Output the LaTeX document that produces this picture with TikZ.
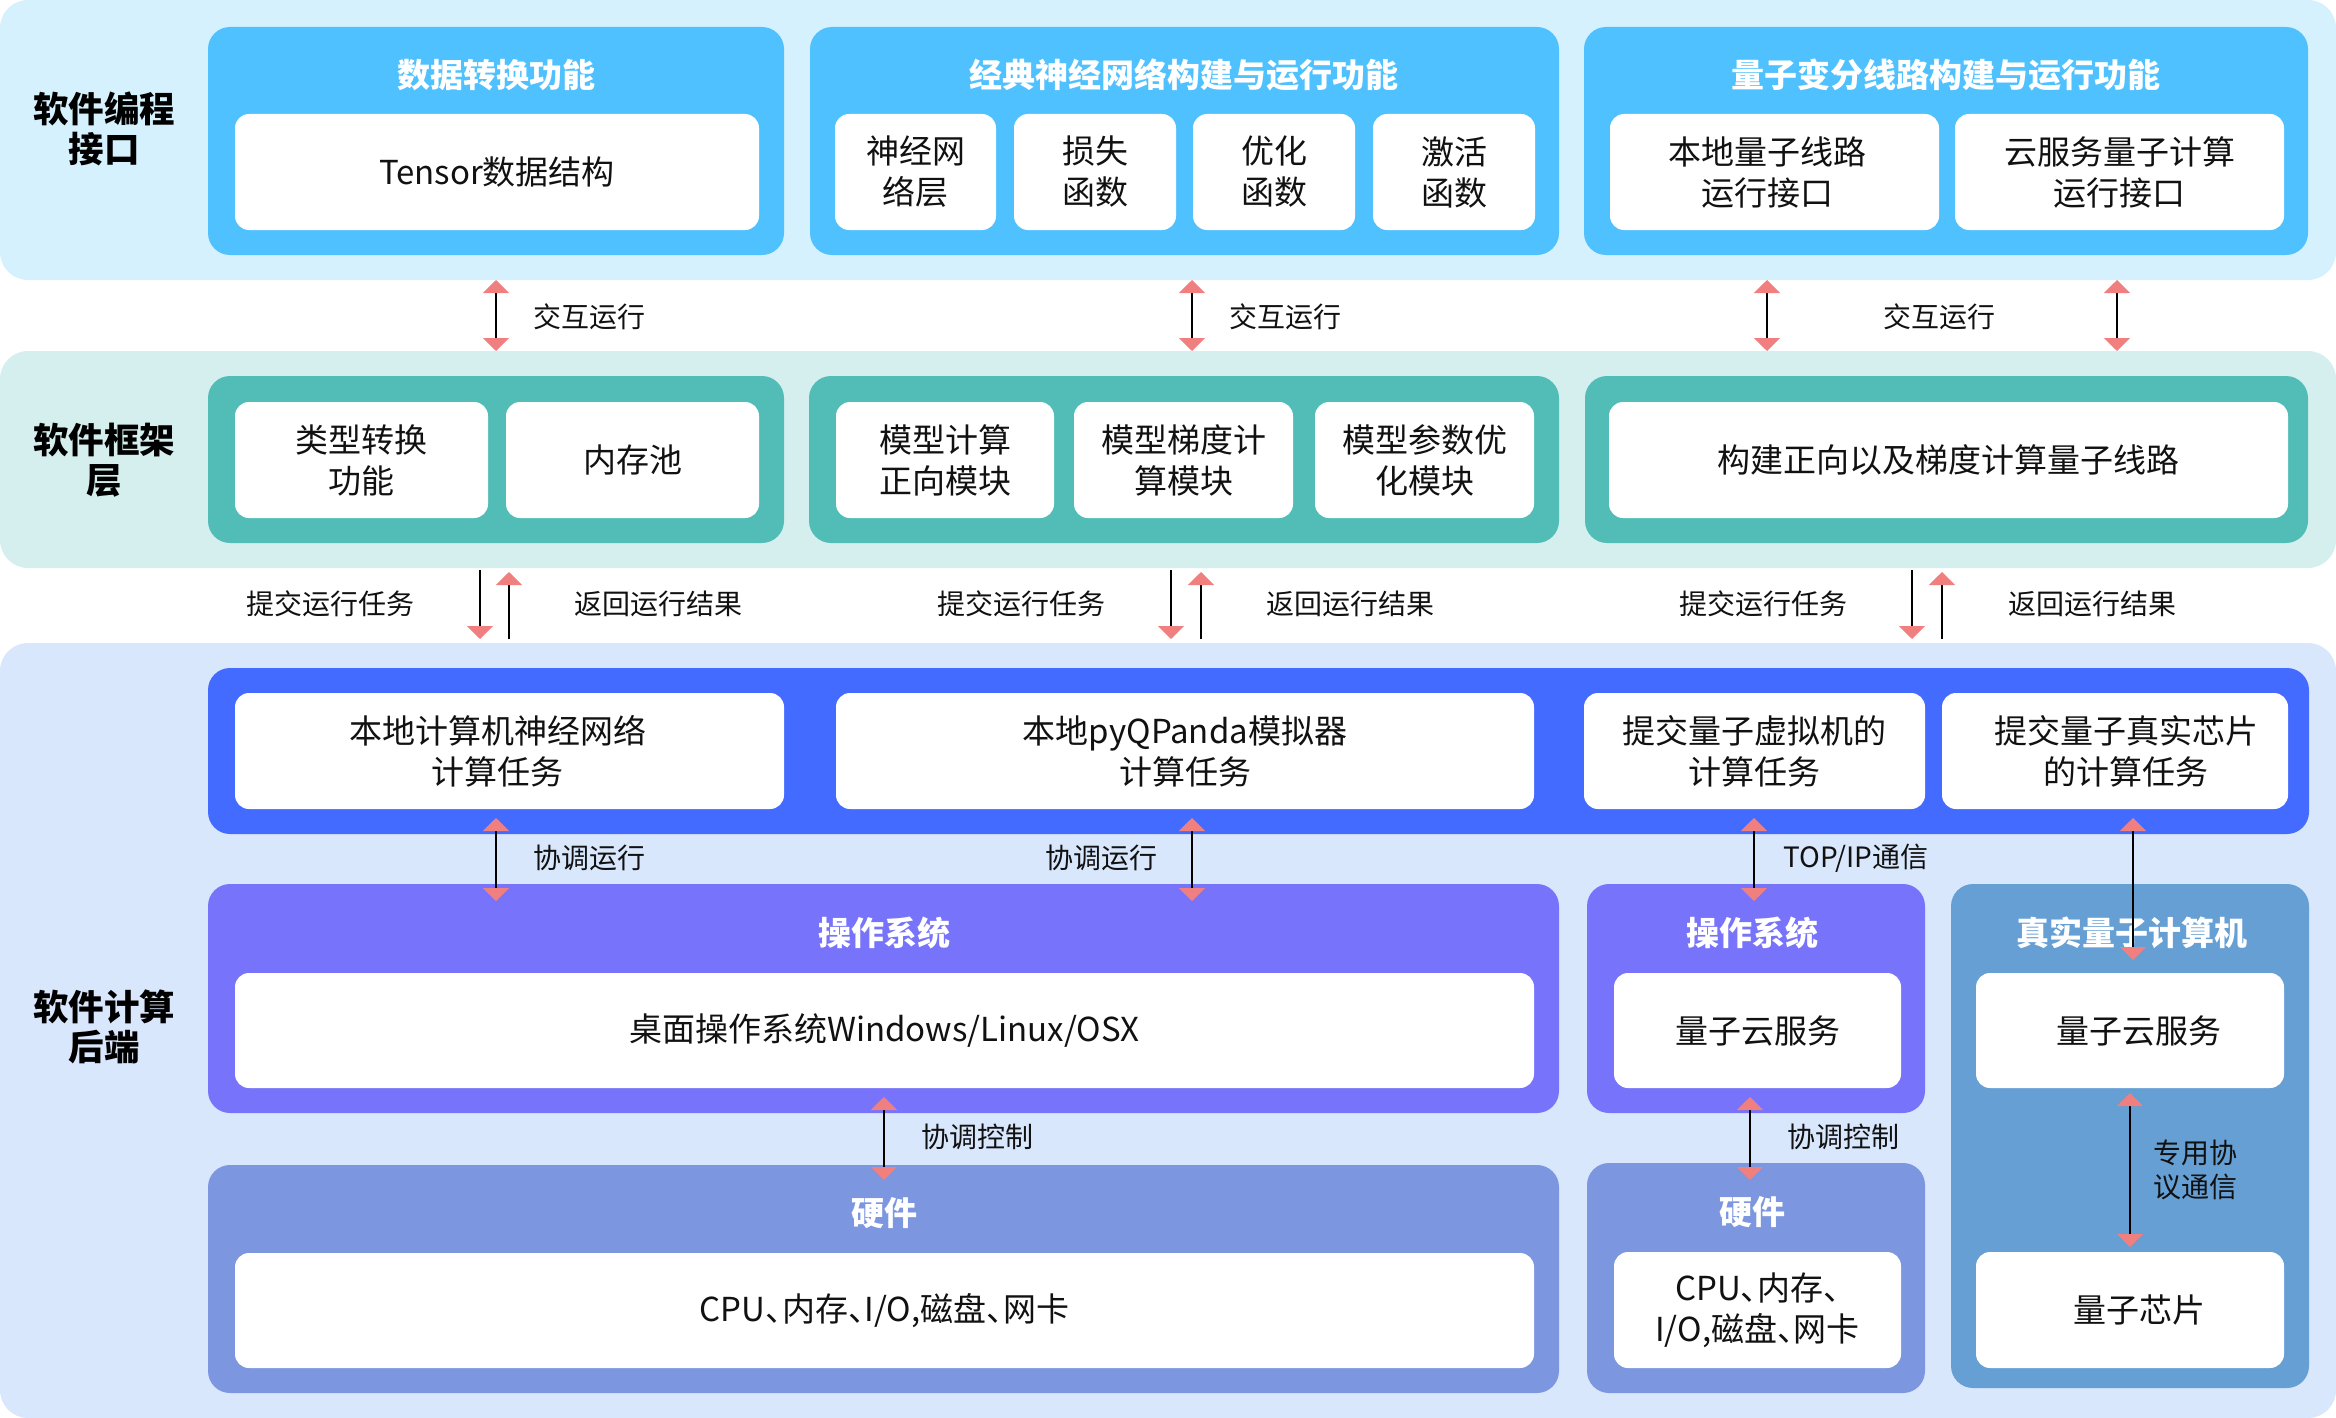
\documentclass[tikz,border=0pt]{standalone}
\usepackage{fontspec}
\setmainfont{Noto Sans CJK SC}
\usetikzlibrary{arrows.meta}
\definecolor{bandA}{HTML}{D5F1FD}
\definecolor{bandB}{HTML}{D5EFEE}
\definecolor{bandC}{HTML}{D9E7FD}
\definecolor{cblue}{HTML}{4FC1FE}
\definecolor{cteal}{HTML}{52BDB7}
\definecolor{croyal}{HTML}{436BFF}
\definecolor{cpurple}{HTML}{7773FA}
\definecolor{chw}{HTML}{7C96DF}
\definecolor{csteel}{HTML}{659FD4}
\definecolor{apink}{HTML}{F08080}
\definecolor{txt}{HTML}{111111}
\newcommand\rbox[7]{\node[#2, anchor=north west, minimum width={#5-#3}, minimum height={#6-#4}, inner sep=0pt, outer sep=0pt] (#1) at (#3,#4) {#7};}
\newcommand\dunhao{\makebox[0.5em][l]{、}}
\tikzset{
  bandbox/.style={rounded corners=28pt},
  contbox/.style={rounded corners=22pt},
  whitebox/.style={rounded corners=14pt, fill=white, align=center, text=txt, font=\fontsize{33}{41}\selectfont},
  titletext/.style={text=white, font=\fontsize{33}{40}\selectfont\bfseries, inner sep=0pt},
  sidetext/.style={text=black, font=\fontsize{35.5}{40}\selectfont\bfseries, align=center, inner sep=0pt},
  lbl/.style={text=txt, font=\fontsize{28}{34}\selectfont, inner sep=0pt, align=left},
  both/.style={line width=2pt, black, {Triangle[width=26pt,length=13pt,color=apink]}-{Triangle[width=26pt,length=13pt,color=apink]}},
  down/.style={line width=2pt, black, -{Triangle[width=26pt,length=13pt,color=apink]}},
}
\begin{document}
\begin{tikzpicture}[x=1pt,y=-1pt]
\useasboundingbox (0,0) rectangle (2336,1418);
% bands
\rbox{bandA}{bandbox, fill=bandA}{0}{0}{2336}{280}{}
\rbox{bandB}{bandbox, fill=bandB}{0}{351}{2336}{568}{}
\rbox{bandC}{bandbox, fill=bandC}{0}{643}{2336}{1418}{}
% side labels
\node[sidetext] (sA) at (104,129) {软件编程\\接口};
\node[sidetext] (sB) at (104,460) {软件框架\\层};
\node[sidetext] (sC) at (104,1027) {软件计算\\后端};
% --- layer 1
\rbox{c1}{contbox, fill=cblue}{208}{27}{784}{255}{}
\rbox{c2}{contbox, fill=cblue}{810}{27}{1559}{255}{}
\rbox{c3}{contbox, fill=cblue}{1584}{27}{2308}{255}{}
\node[titletext] (c1t) at (496,75) {数据转换功能};
\node[titletext] (c2t) at (1184,75) {经典神经网络构建与运行功能};
\node[titletext] (c3t) at (1946,75) {量子变分线路构建与运行功能};
\rbox{w11}{whitebox}{235}{114}{759}{230}{Tensor数据结构}
\rbox{w21}{whitebox}{835}{114}{996}{230}{神经网\\络层}
\rbox{w22}{whitebox}{1014}{114}{1176}{230}{损失\\函数}
\rbox{w23}{whitebox}{1193}{114}{1355}{230}{优化\\函数}
\rbox{w24}{whitebox}{1373}{114}{1535}{230}{激活\\函数}
\rbox{w31}{whitebox}{1610}{114}{1939}{230}{本地量子线路\hspace*{14pt}\\运行接口\hspace*{14pt}}
\rbox{w32}{whitebox}{1955}{114}{2284}{230}{云服务量子计算\\运行接口}
% --- layer 2
\rbox{t1}{contbox, fill=cteal}{208}{376}{784}{543}{}
\rbox{t2}{contbox, fill=cteal}{809}{376}{1559}{543}{}
\rbox{t3}{contbox, fill=cteal}{1585}{376}{2308}{543}{}
\rbox{v11}{whitebox}{235}{402}{488}{518}{类型转换\\功能}
\rbox{v12}{whitebox}{506}{402}{759}{518}{内存池}
\rbox{v21}{whitebox}{836}{402}{1054}{518}{模型计算\\正向模块}
\rbox{v22}{whitebox}{1074}{402}{1293}{518}{模型梯度计\\算模块}
\rbox{v23}{whitebox}{1315}{402}{1534}{518}{模型参数优\\化模块}
\rbox{v31}{whitebox}{1609}{402}{2288}{518}{构建正向以及梯度计算量子线路}
% --- layer 3
\rbox{rb}{contbox, fill=croyal}{208}{668}{2309}{834}{}
\rbox{u1}{whitebox}{235}{693}{784}{809}{本地计算机神经网络\hspace*{24pt}\\计算任务\hspace*{24pt}}
\rbox{u2}{whitebox}{836}{693}{1534}{809}{本地pyQPanda模拟器\\计算任务}
\rbox{u3}{whitebox}{1584}{693}{1925}{809}{提交量子虚拟机的\\计算任务}
\rbox{u4}{whitebox}{1942}{693}{2288}{809}{\hspace*{22pt}提交量子真实芯片\\\hspace*{22pt}的计算任务}
\rbox{os1}{contbox, fill=cpurple}{208}{884}{1559}{1113}{}
\rbox{os2}{contbox, fill=cpurple}{1587}{884}{1925}{1113}{}
\rbox{qc}{contbox, fill=csteel}{1951}{884}{2309}{1388}{}
\rbox{hw1}{contbox, fill=chw}{208}{1165}{1559}{1393}{}
\rbox{hw2}{contbox, fill=chw}{1587}{1163}{1925}{1393}{}
\node[titletext] (os1t) at (884,933) {操作系统};
\node[titletext] (os2t) at (1752,933) {操作系统};
\node[titletext] (qct) at (2132,933) {真实量子计算机};
\node[titletext] (hw1t) at (884,1213) {硬件};
\node[titletext] (hw2t) at (1752,1212) {硬件};
\rbox{o1}{whitebox}{235}{973}{1534}{1088}{桌面操作系统Windows/Linux/OSX}
\rbox{o2}{whitebox}{1614}{973}{1901}{1088}{量子云服务}
\rbox{q1}{whitebox}{1976}{973}{2284}{1088}{\hspace*{18pt}量子云服务}
\rbox{h1}{whitebox}{235}{1253}{1534}{1368}{CPU\dunhao 内存\dunhao I/O,磁盘\dunhao 网卡}
\rbox{h2}{whitebox}{1614}{1252}{1901}{1368}{CPU\dunhao 内存\dunhao\\I/O,磁盘\dunhao 网卡}
\rbox{q2}{whitebox}{1976}{1252}{2284}{1368}{\hspace*{18pt}量子芯片}
% --- x positions of connectors
\coordinate (xa1) at (496,0);
\coordinate (xa2) at (1192,0);
\coordinate (xa3) at (1767,0);
\coordinate (xa4) at (2117,0);
\coordinate (xd1) at (480,0);
\coordinate (xu1) at (509,0);
\coordinate (xd2) at (1171,0);
\coordinate (xu2) at (1201,0);
\coordinate (xd3) at (1912,0);
\coordinate (xu3) at (1942,0);
\coordinate (xb1) at (496,0);
\coordinate (xb2) at (1192,0);
\coordinate (xb3) at (1754,0);
\coordinate (xb4) at (2133,0);
\coordinate (xe1) at (884,0);
\coordinate (xe2) at (1750,0);
\coordinate (xe3) at (2130,0);
% layer 1 <-> 2
\foreach \c in {xa1,xa2,xa3,xa4}
  \draw[both] (bandA.south -| \c) -- (bandB.north -| \c);
% layer 2 -> 3
\foreach \c in {xd1,xd2,xd3}
  \draw[down] ([yshift=-2pt]bandB.south -| \c) -- ([yshift=4pt]bandC.north -| \c);
\foreach \c in {xu1,xu2,xu3}
  \draw[down] ([yshift=4pt]bandC.north -| \c) -- ([yshift=-4pt]bandB.south -| \c);
% layer 3
\draw[both] ([yshift=16pt]rb.south -| xb1) -- ([yshift=-17pt]os1.north -| xb1);
\draw[both] ([yshift=16pt]rb.south -| xb2) -- ([yshift=-17pt]os1.north -| xb2);
\draw[both] ([yshift=16pt]rb.south -| xb3) -- ([yshift=-17pt]os2.north -| xb3);
\draw[both] ([yshift=16pt]rb.south -| xb4) -- ([yshift=13pt]q1.north -| xb4);
\draw[both] ([yshift=16pt]os1.south -| xe1) -- ([yshift=-15pt]hw1.north -| xe1);
\draw[both] ([yshift=16pt]os2.south -| xe2) -- ([yshift=-17pt]hw2.north -| xe2);
\draw[both] ([yshift=-5pt]q1.south -| xe3) -- ([yshift=5pt]q2.north -| xe3);
% labels
\node[lbl] (l1) at (589,317) {交互运行};
\node[lbl] (l2) at (1285,317) {交互运行};
\node[lbl] (l3) at (1939,317) {交互运行};
\node[lbl] (m1) at (330,604) {提交运行任务};
\node[lbl] (m2) at (1021,604) {提交运行任务};
\node[lbl] (m3) at (1763,604) {提交运行任务};
\node[lbl] (n1) at (658,604) {返回运行结果};
\node[lbl] (n2) at (1350,604) {返回运行结果};
\node[lbl] (n3) at (2092,604) {返回运行结果};
\node[lbl] (k1) at (589,858) {协调运行};
\node[lbl] (k2) at (1101,858) {协调运行};
\node[lbl, anchor=west] (k3) at (1783,858) {TOP/IP通信};
\node[lbl, anchor=west] (k4) at (921,1137) {协调控制};
\node[lbl, anchor=west] (k5) at (1787,1137) {协调控制};
\node[lbl, anchor=west] (k6) at (2153,1170) {专用协\\议通信};
\end{tikzpicture}
\end{document}
